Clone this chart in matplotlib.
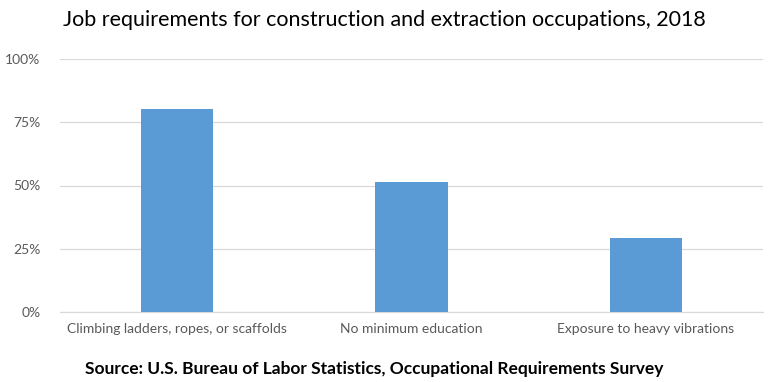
import matplotlib
matplotlib.use("Agg")
import matplotlib.pyplot as plt
from matplotlib.ticker import PercentFormatter

categories = ["Climbing ladders, ropes, or scaffolds", "No minimum education",
              "Exposure to heavy vibrations"]
values = [80.3, 51.3, 29.3]
yticks = [0, 25, 50, 75, 100]

plt.rcParams['font.family'] = ['Lato', 'DejaVu Sans']

fig = plt.figure(figsize=(7.77, 3.82), dpi=100)
ax = fig.add_axes([60/777, 1 - 312/382, 703/777, 253/382])

ax.bar(range(len(categories)), values, width=0.31, color='#5B9BD5', zorder=3)
ax.set_xlim(-0.5, len(categories) - 0.5)
ax.set_ylim(0, 100)
ax.set_yticks(yticks)
ax.yaxis.set_major_formatter(PercentFormatter(decimals=0))
ax.set_xticks(range(len(categories)))
ax.set_xticklabels(categories)
ax.grid(axis='y', color='#D9D9D9', linewidth=0.9, zorder=0)
for s in ['top', 'right', 'left']:
    ax.spines[s].set_visible(False)
ax.spines['bottom'].set_color('#D9D9D9')
ax.tick_params(axis='both', length=0, colors='#595959', labelsize=10)
ax.tick_params(axis='x', pad=8)
ax.tick_params(axis='y', pad=14)

fig.text(63/777, 1 - 20/382, "Job requirements for construction and extraction occupations, 2018",
         fontsize=15.5, va='center', ha='left', color='black')
fig.text(85/777, 1 - 369/382, "Source: U.S. Bureau of Labor Statistics, Occupational Requirements Survey",
         fontsize=12.5, fontweight='bold', va='center', ha='left', color='black')

fig.savefig("out.png", dpi=100)
